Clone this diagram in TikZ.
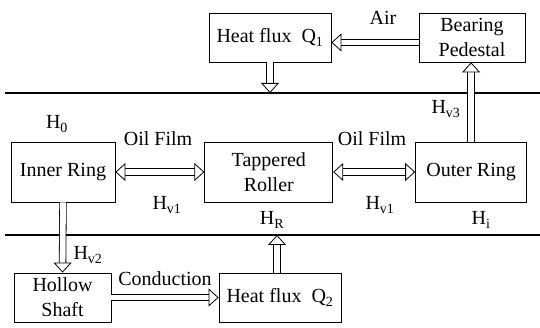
\documentclass[tikz,border=0pt]{standalone}
\usepackage{fontspec}
\setmainfont{Liberation Serif}
\usetikzlibrary{positioning,arrows.meta}

\tikzset{Head/.tip={Triangle[open, fill=white, color=black, line width=0.8pt, length=10pt, width=18pt]}}

\begin{document}
\begin{tikzpicture}[x=1pt, y=-1pt,
    block/.style={draw=black, line width=0.8pt, align=center, inner sep=0pt, font=\fontsize{20}{25}\selectfont},
    flow/.style={draw=black, line width=7.4pt, shorten >=9pt,
        postaction={draw=white, line width=5.8pt, shorten >=9pt},
        postaction={draw=white, line width=0.2pt, shorten >=0pt, -{Head}}},
    twoway/.style={draw=black, line width=7.4pt, shorten >=9pt, shorten <=9pt,
        postaction={draw=white, line width=5.8pt, shorten >=9pt, shorten <=9pt},
        postaction={draw=white, line width=0.2pt, shorten >=0pt, shorten <=0pt, {Head}-{Head}}},
    tag/.style={inner sep=0pt, font=\fontsize{20}{24}\selectfont},
    border/.style={line width=1.6pt}
]
\useasboundingbox (0,0) rectangle (540,328);

% Outside the bearing
\node[block, minimum width=122pt, minimum height=49pt] (q1) at (270,37.5) {Heat flux\ \ Q\textsubscript{1}};
\node[block, minimum width=106pt, minimum height=49pt] (pedestal) at (472,37.5) {Bearing\\Pedestal};

% Bearing
\node[block, minimum width=104pt, minimum height=60pt] (inner) at (63,172) {Inner Ring};
\node[block, minimum width=128pt, minimum height=60pt, right=89pt of inner] (roller) {Tappered\\Roller};
\node[block, minimum width=111pt, minimum height=60pt, right=82pt of roller] (outer) {Outer Ring};

% Shaft side
\node[block, minimum width=97pt, minimum height=49pt] (shaft) at (62.5,297.5) {Hollow\\Shaft};
\node[block, minimum width=122pt, minimum height=49pt] (q2) at (280,297.5) {Heat flux\ \ Q\textsubscript{2}};

% Boundaries
\coordinate (topL) at (5,93);
\coordinate (topR) at (540,93);
\coordinate (botL) at (5,235);
\coordinate (botR) at (540,235);
\draw[border] (topL) -- (topR);
\draw[border] (botL) -- (botR);
\coordinate (q1in) at (q1.south |- topL);
\coordinate (q2out) at ([xshift=-3pt]q2.north |- botL);

% Arrows
\draw[flow] ([yshift=-5pt]pedestal.west) -- ([yshift=-5pt]q1.east);
\draw[flow] (q1.south) -- (q1in);
\draw[flow] (outer.north) -- (outer.north |- pedestal.south);
\foreach \a/\b in {inner/roller, roller/outer} {
    \draw[twoway] (\a) -- (\b);
}
\draw[flow] (inner.south) -- (shaft.north);
\draw[flow] (shaft) -- (q2);
\draw[flow] ([xshift=-3pt]q2.north) -- (q2out);

% Labels
\node[tag] (air) at (383,18) {Air};
\node[tag] (h0) at (57,124) {H\textsubscript{0}};
\node[tag] (oil1) at (158,139) {Oil Film};
\node[tag] (oil2) at (372,139) {Oil Film};
\node[tag] (hv1a) at (167,205) {H\textsubscript{v1}};
\node[tag] (hv1b) at (380,205) {H\textsubscript{v1}};
\node[tag] (hr) at (272,220) {H\textsubscript{R}};
\node[tag] (hi) at (481,220) {H\textsubscript{i}};
\node[tag] (hv3) at (446,109) {H\textsubscript{v3}};
\node[tag] (hv2) at (88,255) {H\textsubscript{v2}};
\node[tag] (cond) at (165,279) {Conduction};

\end{tikzpicture}
\end{document}
